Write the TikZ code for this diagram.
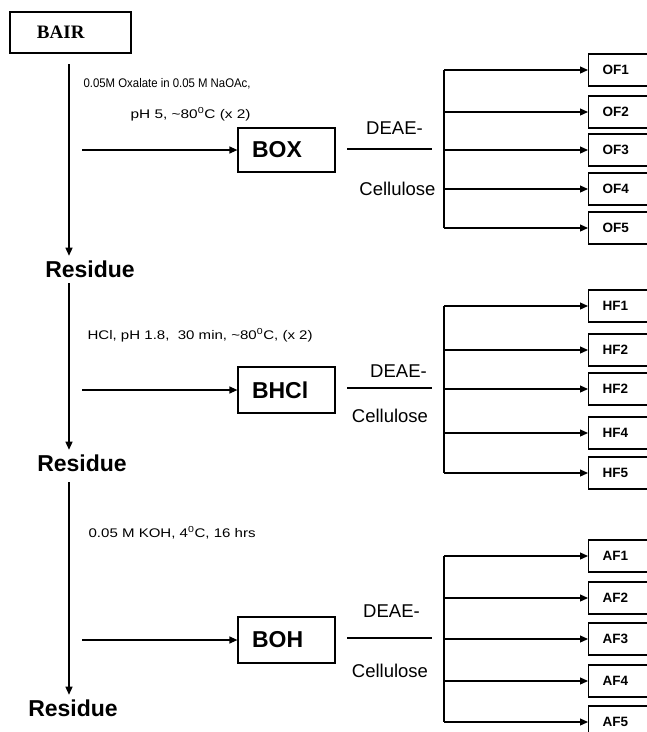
\documentclass[tikz,border=0pt]{standalone}
\usepackage{fontspec}
\usepackage{graphicx}
\setmainfont{Liberation Sans}
\newfontfamily\serifbf{Liberation Serif}
\usetikzlibrary{arrows.meta}
\begin{document}
\begin{tikzpicture}[x=1pt,y=-1pt, line width=1.2pt,
  >={Triangle[length=8pt,width=7pt]},
  bigbox/.style={draw, inner xsep=14pt, inner ysep=0pt, text width=69pt, align=left,
    minimum height=44pt, font=\fontsize{23}{23}\selectfont\bfseries},
  frac/.style={draw, inner xsep=14pt, inner ysep=0pt, text width=42pt, align=left,
    minimum height=32pt, anchor=west, font=\fontsize{13.5}{13.5}\selectfont\bfseries},
  resid/.style={anchor=base, inner sep=4pt, font=\fontsize{23}{23}\selectfont\bfseries},
  cond/.style={anchor=base west, inner sep=0pt, font=\fontsize{12.5}{12.5}\selectfont},
  col/.style={anchor=base, inner sep=0pt, font=\fontsize{18.5}{18.5}\selectfont}]
\useasboundingbox (0,0) rectangle (647,732);
\clip (0,0) rectangle (647,732);

% start box
\node[draw, inner xsep=27pt, inner ysep=0pt, text width=67pt, align=left, minimum height=41pt,
  font=\serifbf\fontsize{19}{19}\selectfont\bfseries] (bair) at (70.5,32.5) {BAIR};

% residues
\node[resid] (r1) at (90,277) {Residue};
\node[resid] (r2) at (82,471) {Residue};
\node[resid] (r3) at (73,716) {Residue};

\coordinate (s1) at (69,64);
\coordinate (s2) at (69,283);
\coordinate (s3) at (69,482);
\draw[->] (s1) -- (s1 |- r1.north);
\draw[->] (s2) -- (s2 |- r2.north);
\draw[->] (s3) -- (s3 |- r3.north);

% conditions
\node[cond] (c1a) at (83,87) {\resizebox{167pt}{\height}{0.05M Oxalate in 0.05 M NaOAc,}};
\node[cond] (c1b) at (130,118) {\resizebox{120pt}{\height}{pH 5, \textasciitilde 80\textsuperscript{0}C (x 2)}};
\node[cond] (c2) at (87,339) {\resizebox{225pt}{\height}{HCl, pH 1.8,\ \ 30 min, \textasciitilde 80\textsuperscript{0}C, (x 2)}};
\node[cond] (c3) at (88,537) {\resizebox{167pt}{\height}{0.05 M KOH, 4\textsuperscript{0}C, 16 hrs}};

% extract boxes
\node[bigbox] (box) at (286.5,150) {BOX};
\node[bigbox, minimum height=46pt] (bhcl) at (286.5,390) {BHCl};
\node[bigbox, minimum height=46pt] (boh) at (286.5,640) {BOH};

\coordinate (h1) at (82,150);
\coordinate (h2) at (82,390);
\coordinate (h3) at (82,640);
\draw[->] (h1) -- (box.west);
\draw[->] (h2) -- (bhcl.west);
\draw[->] (h3) -- (boh.west);

% DEAE-Cellulose
\coordinate (d1a) at (347,149); \coordinate (d1b) at (432,149);
\coordinate (d2a) at (347,388); \coordinate (d2b) at (432,388);
\coordinate (d3a) at (347,638); \coordinate (d3b) at (432,638);
\draw (d1a) -- (d1b);
\draw (d2a) -- (d2b);
\draw (d3a) -- (d3b);
\node[col] (de1) at (394.5,134) {DEAE-};
\node[col] (ce1) at (397.5,195) {Cellulose};
\node[col] (de2) at (398.5,377) {DEAE-};
\node[col] (ce2) at (390,422) {Cellulose};
\node[col] (de3) at (391.5,617) {DEAE-};
\node[col] (ce3) at (390,677) {Cellulose};

% fractions
\coordinate (bus) at (444,0);
\node[frac] (OF1) at (588,70) {OF1};
\node[frac] (OF2) at (588,112) {OF2};
\node[frac] (OF3) at (588,150) {OF3};
\node[frac] (OF4) at (588,189) {OF4};
\node[frac] (OF5) at (588,228) {OF5};
\node[frac] (HF1) at (588,306) {HF1};
\node[frac] (HF2) at (588,350) {HF2};
\node[frac] (HF3) at (588,389) {HF2};
\node[frac] (HF4) at (588,433) {HF4};
\node[frac] (HF5) at (588,473) {HF5};
\node[frac] (AF1) at (588,556) {AF1};
\node[frac] (AF2) at (588,598) {AF2};
\node[frac] (AF3) at (588,639) {AF3};
\node[frac] (AF4) at (588,681) {AF4};
\node[frac] (AF5) at (588,722) {AF5};

\draw (bus |- OF1.west) -- (bus |- OF5.west);
\draw (bus |- HF1.west) -- (bus |- HF5.west);
\draw (bus |- AF1.west) -- (bus |- AF5.west);
\foreach \g in {OF,HF,AF}{
  \foreach \i in {1,...,5}{
    \draw[->] (bus |- \g\i.west) -- (\g\i.west);
  }
}
\end{tikzpicture}
\end{document}
